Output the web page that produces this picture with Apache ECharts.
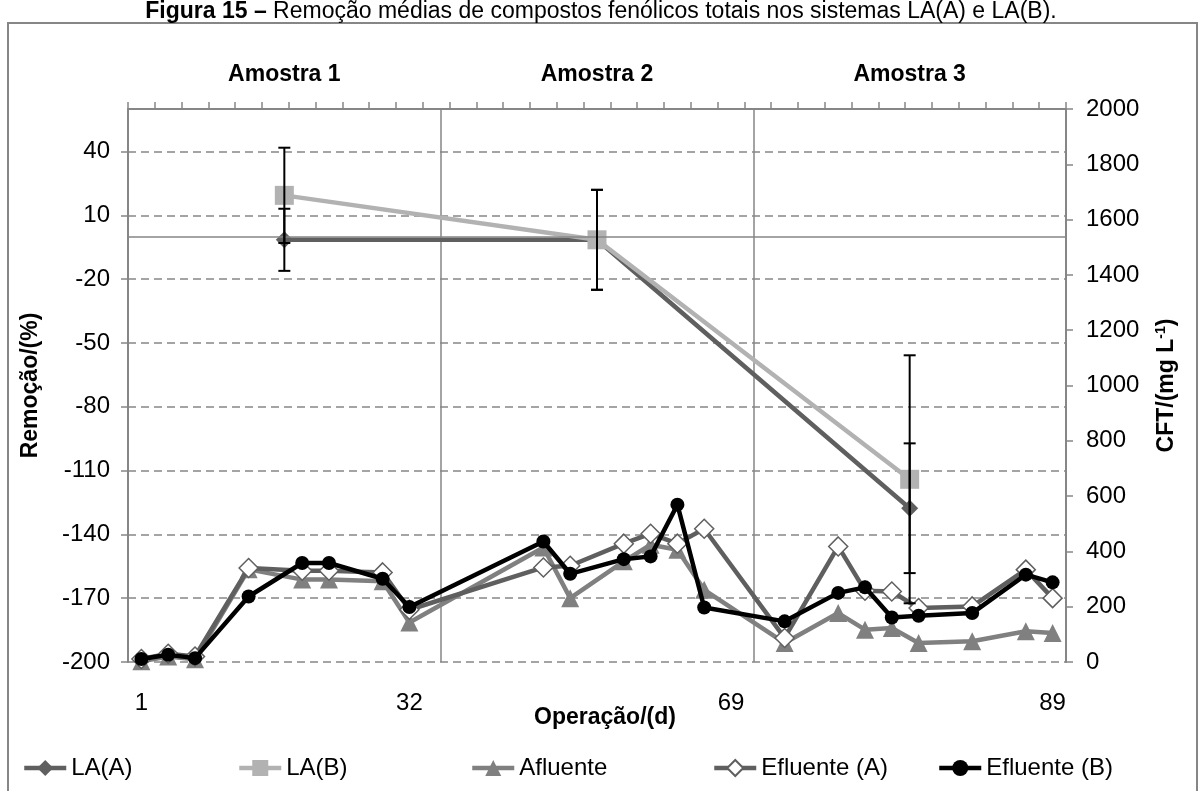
<!DOCTYPE html>
<html>
<head>
<meta charset="utf-8">
<script src="https://cdn.jsdelivr.net/npm/echarts@6/dist/echarts.min.js"></script>
<style>
html, body { margin: 0; padding: 0; background: #fff; }
#chart { width: 1202px; height: 791px; }
</style>
</head>
<body>
<div id="chart"></div>
<script>
// eixo das amostras (Remoção) e dias de operação (CFT)
const amostras = ['Amostra 1', 'Amostra 2', 'Amostra 3'];
const dias = ['1', '', '', '', '', '', '', '', '', '', '32', '', '', '', '', '', '', '', '', '', '', '', '69', '', '', '', '', '', '', '', '', '', '', '', '89'];

// Remoção média (%) e desvio
const laA = [-1.5, -1.5, -127.7];
const laAErr = [14.6, 23.5, 30.5];
const laB = [19.4, -1.5, -114.1];
const laBErr = [22.4, 23.5, 58.3];

// CFT (mg/L)
const afluente = [3, 20, 10, null, 335, null, 298, 298, null, 292, 143, null, null, null, null, 414, 231, null, 364, 424, 406, 261, null, null, 69, null, 177, 117, 123, 69, null, 75, null, 111, 105];
const efluenteA = [11, 30, 20, null, 340, null, 330, 330, null, 324, 189, null, null, null, null, 342, 348, null, 428, 464, 428, 482, null, null, 87, null, 418, 258, 255, 195, null, 201, null, 334, 231];
const efluenteB = [11, 26, 14, null, 237, null, 358, 358, null, 301, 199, null, null, null, null, 436, 319, null, 372, 382, 569, 197, null, null, 147, null, 250, 270, 161, 167, null, 177, null, 316, 288];

const eixoCor = '#868686';
const fonte = 'Liberation Sans';

function barraErro(valores, erros) {
    return {
        type: 'custom',
        xAxisIndex: 2,
        yAxisIndex: 0,
        z: 10,
        silent: true,
        encode: { x: 0, y: [1, 2] },
        data: valores.map((v, i) => [i, v - erros[i], v + erros[i]]),
        renderItem: function (params, api) {
            const baixo = api.coord([api.value(0), api.value(1)]);
            const alto = api.coord([api.value(0), api.value(2)]);
            const w = 6;
            const style = { stroke: '#000', lineWidth: 2 };
            return {
                type: 'group',
                children: [
                    { type: 'line', shape: { x1: alto[0], y1: alto[1], x2: baixo[0], y2: baixo[1] }, style: style },
                    { type: 'line', shape: { x1: alto[0] - w, y1: alto[1], x2: alto[0] + w, y2: alto[1] }, style: style },
                    { type: 'line', shape: { x1: baixo[0] - w, y1: baixo[1], x2: baixo[0] + w, y2: baixo[1] }, style: style }
                ]
            };
        }
    };
}

const nomes = ['LA(A)', 'LA(B)', 'Afluente', 'Efluente (A)', 'Efluente (B)'];
const legendaX = [17, 232, 465, 707, 932];

const chart = echarts.init(document.getElementById('chart'));
const option = {
    animation: false,
    textStyle: { fontFamily: fonte, color: '#000' },
    title: {
        text: '{b|Figura 15 –} Remoção médias de compostos fenólicos totais nos sistemas LA(A) e LA(B).',
        left: 'center',
        top: 0,
        padding: 0,
        textStyle: {
            fontFamily: fonte, fontSize: 23, fontWeight: 'normal', color: '#000',
            rich: { b: { fontFamily: fonte, fontSize: 23, fontWeight: 'bold', color: '#000' } }
        }
    },
    graphic: [{
        type: 'rect',
        shape: { x: 8, y: 23, width: 1189, height: 800 },
        style: { fill: null, stroke: eixoCor, lineWidth: 2 },
        silent: true
    }],
    legend: nomes.map((n, i) => ({
        data: [n],
        left: legendaX[i],
        top: 751,
        itemWidth: 42,
        itemHeight: 20,
        lineStyle: { width: 4.5 },
        textStyle: { fontFamily: fonte, fontSize: 24, color: '#000' }
    })),
    grid: { left: 128, right: 136, top: 109, bottom: 129, outerBoundsMode: 'none' },
    xAxis: [
        {
            type: 'category',
            data: dias,
            position: 'top',
            boundaryGap: true,
            axisLine: { onZero: false, lineStyle: { color: eixoCor, width: 2 } },
            axisTick: { show: true, interval: 0, inside: false, length: 7, lineStyle: { color: eixoCor, width: 1.5 } },
            axisLabel: { show: false },
            splitLine: { show: false }
        },
        {
            type: 'category',
            data: dias,
            position: 'bottom',
            boundaryGap: true,
            axisLine: { show: false, onZero: false },
            axisTick: { show: false },
            axisLabel: { interval: 0, margin: 29, fontSize: 24, color: '#000', fontFamily: fonte },
            name: 'Operação/(d)',
            nameLocation: 'middle',
            nameGap: 44,
            nameMoveOverlap: false,
            nameTextStyle: { fontSize: 23, fontWeight: 'bold', color: '#000', fontFamily: fonte, padding: [0, 0, 0, 16] }
        },
        {
            type: 'category',
            data: amostras,
            position: 'top',
            boundaryGap: true,
            axisLine: { show: false, onZero: false },
            axisTick: { show: false },
            axisLabel: { margin: 23, fontSize: 23, fontWeight: 'bold', color: '#000', fontFamily: fonte },
            splitLine: { show: true, lineStyle: { color: eixoCor, width: 1.5, type: 'solid' } }
        }
    ],
    yAxis: [
        {
            type: 'value',
            position: 'left',
            min: -200,
            max: 60,
            interval: 30,
            axisLine: { show: true, lineStyle: { color: eixoCor, width: 2 } },
            axisTick: { show: true, length: 7, lineStyle: { color: eixoCor, width: 1.5 } },
            axisLabel: { showMaxLabel: false, margin: 18, fontSize: 24, color: '#000', fontFamily: fonte },
            splitLine: { show: true, lineStyle: { color: eixoCor, width: 1.5, type: [8, 5] } },
            name: 'Remoção/(%)',
            nameLocation: 'middle',
            nameRotate: 90,
            nameGap: 86,
            nameMoveOverlap: false,
            nameTextStyle: { fontSize: 23, fontWeight: 'bold', color: '#000', fontFamily: fonte }
        },
        {
            type: 'value',
            position: 'right',
            min: 0,
            max: 2000,
            interval: 200,
            axisLine: { show: true, lineStyle: { color: eixoCor, width: 2 } },
            axisTick: { show: true, length: 7, lineStyle: { color: eixoCor, width: 1.5 } },
            axisLabel: { margin: 20, fontSize: 24, color: '#000', fontFamily: fonte, formatter: v => String(v) },
            splitLine: { show: false },
            name: '{a|CFT/(mg L}{s|-1}{a|)}',
            nameLocation: 'middle',
            nameRotate: 90,
            nameGap: 88,
            nameMoveOverlap: false,
            nameTextStyle: {
                rich: {
                    a: { fontSize: 23, fontWeight: 'bold', color: '#000', fontFamily: fonte, lineHeight: 26 },
                    s: { fontSize: 14, fontWeight: 'bold', color: '#000', fontFamily: fonte, verticalAlign: 'top', lineHeight: 26 }
                }
            }
        }
    ],
    series: [
        {
            name: 'LA(A)',
            type: 'line',
            xAxisIndex: 2,
            yAxisIndex: 0,
            data: laA,
            symbol: 'diamond',
            symbolSize: 17,
            showAllSymbol: true,
            z: 2,
            lineStyle: { color: '#5f5f5f', width: 4.5 },
            itemStyle: { color: '#5f5f5f' },
            markLine: {
                silent: true,
                symbol: 'none',
                label: { show: false },
                lineStyle: { color: eixoCor, width: 1.5, type: 'solid' },
                data: [{ yAxis: 0 }]
            }
        },
        {
            name: 'LA(B)',
            type: 'line',
            xAxisIndex: 2,
            yAxisIndex: 0,
            data: laB,
            symbol: 'rect',
            symbolSize: 19,
            showAllSymbol: true,
            z: 3,
            lineStyle: { color: '#b2b2b2', width: 4.5 },
            itemStyle: { color: '#b2b2b2' }
        },
        barraErro(laA, laAErr),
        barraErro(laB, laBErr),
        {
            name: 'Afluente',
            type: 'line',
            xAxisIndex: 0,
            yAxisIndex: 1,
            data: afluente,
            connectNulls: true,
            symbol: 'triangle',
            symbolSize: 18,
            showAllSymbol: true,
            z: 4,
            lineStyle: { color: '#808080', width: 4.5 },
            itemStyle: { color: '#808080' }
        },
        {
            name: 'Efluente (A)',
            type: 'line',
            xAxisIndex: 0,
            yAxisIndex: 1,
            data: efluenteA,
            connectNulls: true,
            symbol: 'diamond',
            symbolSize: 19,
            showAllSymbol: true,
            z: 5,
            lineStyle: { color: '#5f5f5f', width: 4.5 },
            itemStyle: { color: '#ffffff', borderColor: '#5f5f5f', borderWidth: 1.5 }
        },
        {
            name: 'Efluente (B)',
            type: 'line',
            xAxisIndex: 0,
            yAxisIndex: 1,
            data: efluenteB,
            connectNulls: true,
            symbol: 'circle',
            symbolSize: 14,
            showAllSymbol: true,
            z: 6,
            lineStyle: { color: '#000000', width: 4.5 },
            itemStyle: { color: '#000000' }
        }
    ]
};
option && chart.setOption(option);
</script>
</body>
</html>
